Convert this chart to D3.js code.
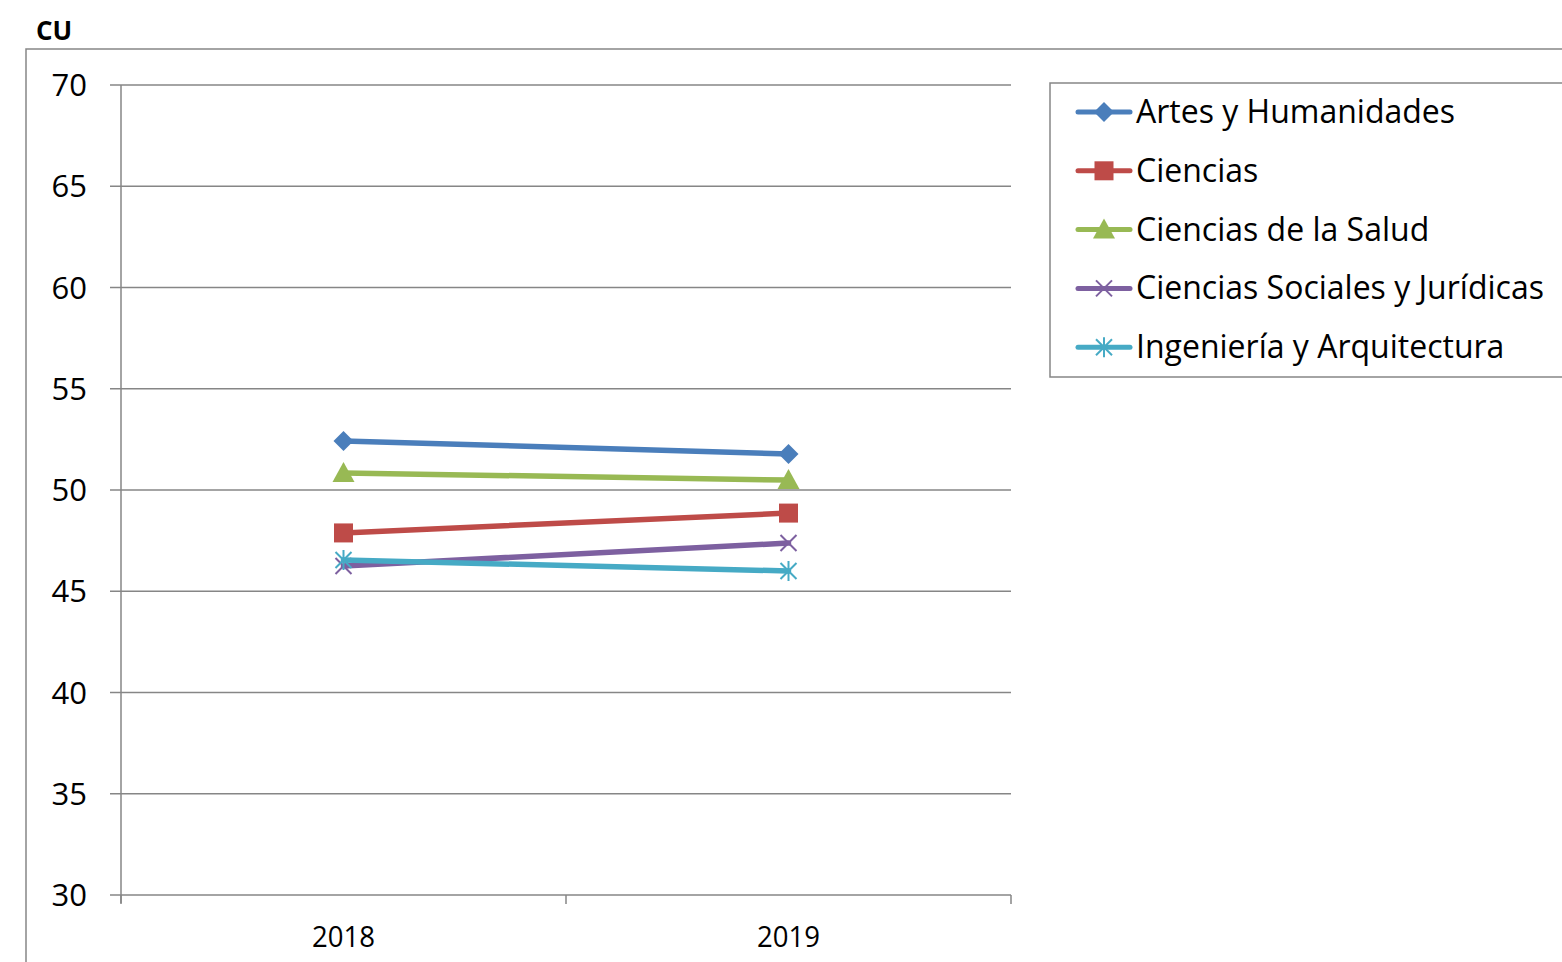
<!DOCTYPE html>
<html>
<head>
<meta charset="utf-8">
<script src="https://cdn.jsdelivr.net/npm/d3@7"></script>
<style>
  body { margin: 0; background: #fff; }
  text { font-family: "Open Sans", "Noto Sans", sans-serif; fill: #000; }
</style>
</head>
<body>
<script>
// data
var years = ["2018", "2019"];
var seriesNames = ["Artes y Humanidades", "Ciencias", "Ciencias de la Salud",
                   "Ciencias Sociales y Jurídicas", "Ingeniería y Arquitectura"];
var artes = [52.42, 51.78];
var ciencias = [47.88, 48.86];
var salud = [50.84, 50.49];
var sociales = [46.25, 47.38];
var ingenieria = [46.54, 46.0];
var colors = ["#4A7EBB", "#BE4B48", "#98B954", "#7D60A0", "#46AAC5"];
var markers = ["diamond", "square", "triangle", "x", "star"];
var yTicks = [30, 35, 40, 45, 50, 55, 60, 65, 70];

var allValues = [artes, ciencias, salud, sociales, ingenieria];

var width = 1562, height = 962;
var svg = d3.select("body").append("svg")
  .attr("width", width).attr("height", height);

// outer frame
svg.append("rect")
  .attr("x", 26).attr("y", 49)
  .attr("width", 1600).attr("height", 1000)
  .attr("fill", "none").attr("stroke", "#868686").attr("stroke-width", 1.5);

svg.append("text")
  .attr("x", 36).attr("y", 40)
  .attr("font-size", 26).attr("font-weight", "bold")
  .text("CU");

var plotLeft = 121, plotRight = 1011, plotTop = 85, plotBottom = 895;

var x = d3.scaleBand().domain(years).range([plotLeft, plotRight]);
var y = d3.scaleLinear().domain([30, 70]).range([plotBottom, plotTop]);

// gridlines
svg.selectAll(".grid").data(yTicks).enter()
  .append("line")
  .attr("x1", 110).attr("x2", plotRight)
  .attr("y1", function(d){ return y(d); })
  .attr("y2", function(d){ return y(d); })
  .attr("stroke", "#868686").attr("stroke-width", 1.5);

// y axis line
svg.append("line")
  .attr("x1", plotLeft).attr("x2", plotLeft)
  .attr("y1", plotTop).attr("y2", plotBottom + 8)
  .attr("stroke", "#868686").attr("stroke-width", 1.5);

// x tick marks at band edges
var edges = years.map(function(d){ return x(d); }).concat([plotRight]);
svg.selectAll(".xtick").data(edges).enter()
  .append("line")
  .attr("x1", function(d){ return d; }).attr("x2", function(d){ return d; })
  .attr("y1", plotBottom).attr("y2", plotBottom + 9)
  .attr("stroke", "#868686").attr("stroke-width", 1.5);

svg.selectAll(".ylab").data(yTicks).enter()
  .append("text")
  .attr("x", 87)
  .attr("y", function(d){ return y(d) + 11; })
  .attr("text-anchor", "end")
  .attr("font-size", 31)
  .text(function(d){ return d; });

svg.selectAll(".xlab").data(years).enter()
  .append("text")
  .attr("transform", function(d){
    return "translate(" + (x(d) + x.bandwidth() / 2) + "," + 947 + ") scale(0.95,1)";
  })
  .attr("text-anchor", "middle")
  .attr("font-size", 29)
  .text(function(d){ return d; });

function drawMarker(g, type, color) {
  if (type == "diamond") {
    g.append("path").attr("d", "M0,-10L10,0L0,10L-10,0Z").attr("fill", color);
  } else if (type == "square") {
    g.append("rect").attr("x", -9.5).attr("y", -9.5).attr("width", 19).attr("height", 19).attr("fill", color);
  } else if (type == "triangle") {
    g.append("path").attr("d", "M0,-11L11,9L-11,9Z").attr("fill", color);
  } else if (type == "x") {
    g.append("path").attr("d", "M-8,-8L8,8M-8,8L8,-8").attr("stroke", color).attr("stroke-width", 2);
  } else if (type == "star") {
    g.append("path").attr("d", "M-8,-8L8,8M-8,8L8,-8M0,-10L0,10").attr("stroke", color).attr("stroke-width", 2);
  }
}

var line = d3.line()
  .x(function(d, i){ return x(years[i]) + x.bandwidth() / 2; })
  .y(function(d){ return y(d); });

allValues.forEach(function(vals, s) {
  svg.append("path")
    .attr("d", line(vals))
    .attr("fill", "none")
    .attr("stroke", colors[s]).attr("stroke-width", 5.5)
    .attr("stroke-linecap", "round");
  vals.forEach(function(v, i) {
    var g = svg.append("g")
      .attr("transform", "translate(" + (x(years[i]) + x.bandwidth() / 2) + "," + y(v) + ")");
    drawMarker(g, markers[s], colors[s]);
  });
});

// legend
svg.append("rect")
  .attr("x", 1050).attr("y", 83)
  .attr("width", 600).attr("height", 294)
  .attr("fill", "none").attr("stroke", "#868686").attr("stroke-width", 1.5);

var leg = svg.selectAll(".leg").data(seriesNames).enter()
  .append("g")
  .attr("transform", function(d, i){ return "translate(0," + (112 + i * 58.8) + ")"; });

leg.append("line")
  .attr("x1", 1078).attr("x2", 1130)
  .attr("stroke", function(d, i){ return colors[i]; })
  .attr("stroke-width", 5).attr("stroke-linecap", "round");

leg.each(function(d, i) {
  var g = d3.select(this).append("g").attr("transform", "translate(1104,0)");
  drawMarker(g, markers[i], colors[i]);
});

leg.append("text")
  .attr("x", 1136).attr("y", 11)
  .attr("font-size", 32)
  .text(function(d){ return d; });
</script>
</body>
</html>
